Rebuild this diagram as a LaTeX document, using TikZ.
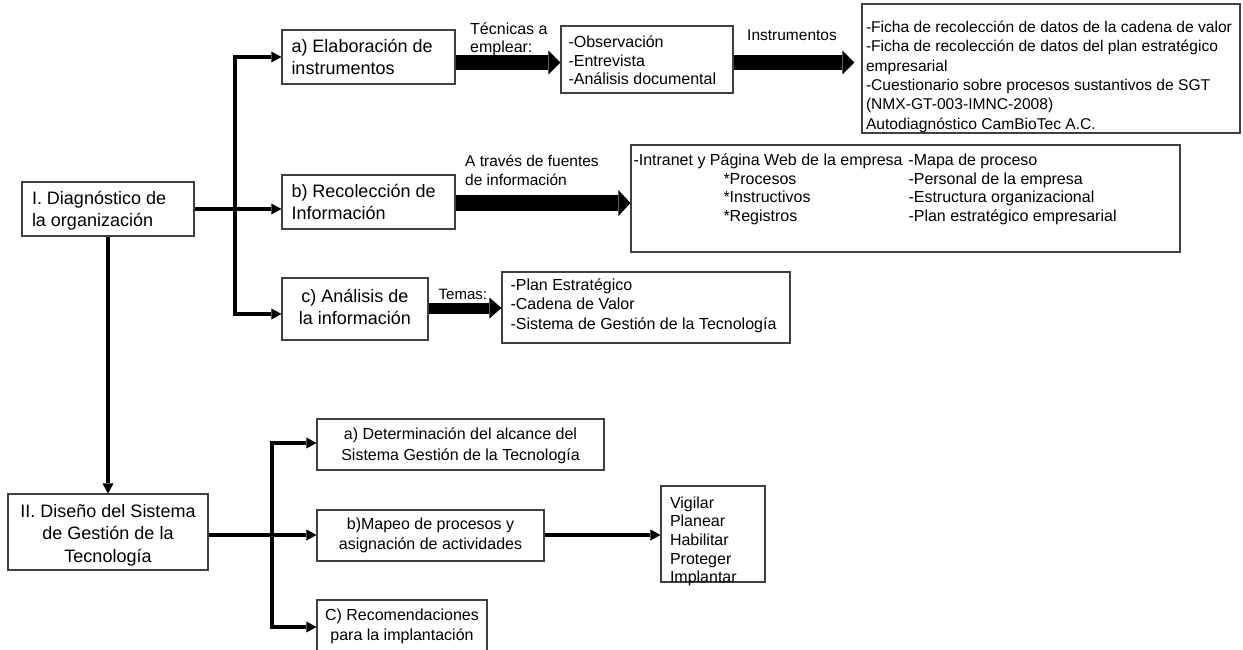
\documentclass[tikz,border=0pt]{standalone}
\usepackage{fontspec}
\setmainfont{Liberation Sans}
\usetikzlibrary{arrows.meta}
% left-aligned block of lines inside a fixed-width slot
\newcommand{\lft}[2]{\makebox[#1][l]{\begin{tabular}[t]{@{}l@{}}#2\end{tabular}}}
% centred block of lines
\newcommand{\ctr}[1]{\begin{tabular}[t]{@{}c@{}}#1\end{tabular}}
\newcommand{\fs}[2]{\fontsize{#1}{#2}\selectfont}
\begin{document}
\begin{tikzpicture}[x=1pt,y=-1pt,
  box/.style={draw=black!75, line width=1.1pt, inner sep=0pt, text height=0pt, anchor=center},
  conn/.style={line width=3.8pt, -{Triangle[length=10pt,width=11pt,line width=0pt]}},
  bus/.style={line width=3.8pt, line cap=rect},
  fat/.style={line width=#1, -{Triangle[length=12pt,width=24pt,line width=0pt]}},
  lab/.style={inner sep=0pt, anchor=base west}]
\useasboundingbox[fill=white] (0,0) rectangle (1243,649);

% ---------- I. Diagnóstico ----------
\node[box, minimum width=172pt, minimum height=54pt, text depth=10pt, font=\fs{18}{22}]
  (diag) at (108,209) {\lft{152pt}{I. Diagnóstico de\\la organización}};
\node[box, minimum width=173pt, minimum height=54pt, text depth=9pt, font=\fs{18}{22}]
  (elab) at (368.5,57) {\lft{154pt}{a) Elaboración de\\instrumentos}};
\node[box, minimum width=173pt, minimum height=54pt, text depth=9.4pt, font=\fs{18}{22}]
  (reco) at (368.5,202) {\lft{154pt}{b) Recolección de\\Información}};
\node[box, minimum width=146pt, minimum height=62pt, text depth=14pt, font=\fs{18}{22}]
  (anal) at (355,309) {\ctr{c) Análisis de\\la información}};

\node[box, minimum width=172pt, minimum height=67pt, text depth=24pt, font=\fs{16}{18.5}]
  (tech) at (647,59.5) {\lft{157pt}{-Observación\\-Entrevista\\-Análisis documental}};
\node[box, minimum width=378pt, minimum height=129pt, text depth=72pt, font=\fs{15.6}{19.3}]
  (inst) at (1051,68.5) {\lft{370pt}{-Ficha de recolección de datos de la cadena de valor\\
  -Ficha de recolección de datos del plan estratégico\\empresarial\\
  -Cuestionario sobre procesos sustantivos de SGT\\(NMX-GT-003-IMNC-2008)\\
  Autodiagnóstico CamBioTec A.C.}};
\node[box, minimum width=549pt, minimum height=107pt, text depth=66pt, font=\fs{16}{18.7}]
  (fuentes) at (905.5,198.5) {\makebox[544pt][l]{\begin{tabular}[t]{@{}p{275pt}@{}l@{}}
  -Intranet y Página Web de la empresa & -Mapa de proceso\\
  \hspace*{90pt}*Procesos & -Personal de la empresa\\
  \hspace*{90pt}*Instructivos & -Estructura organizacional\\
  \hspace*{90pt}*Registros & -Plan estratégico empresarial
  \end{tabular}}};
\node[box, minimum width=288pt, minimum height=71pt, text depth=33.6pt, font=\fs{16}{19.2}]
  (temas) at (646,307.5) {\lft{271pt}{-Plan Estratégico\\-Cadena de Valor\\-Sistema de Gestión de la Tecnología}};

% labels on the wide arrows
\node[lab, font=\fs{16}{18}] (tlab) at (470,34) {\begin{tabular}[t]{@{}l@{}}Técnicas a\\emplear:\end{tabular}};
\node[lab, font=\fs{15.5}{16}] (ilab) at (747,40.5) {Instrumentos};
\node[lab, font=\fs{15.5}{18.5}] (flab) at (465,166.5) {\begin{tabular}[t]{@{}l@{}}A través de fuentes\\de información\end{tabular}};
\node[lab, font=\fs{15}{16}] (mlab) at (438.5,299) {Temas:};

% branch lines of the first stage
\coordinate (tA) at (235,57);
\coordinate (tC) at (235,314);
\draw[bus] (tA) -- (tC);
\draw[conn] (tA) -- (elab.west |- tA);
\draw[conn] (diag.east) -- (reco.west |- diag.east);
\draw[conn] (tC) -- (anal.west |- tC);

% wide arrows
\coordinate (ya) at (0,62.5);
\coordinate (yb) at (0,203);
\coordinate (yc) at (0,308);
\draw[fat=15pt] (elab.east |- ya) -- (tech.west |- ya);
\draw[fat=15pt, shorten >=7pt] (tech.east |- ya) -- (inst.west |- ya);
\draw[fat=16pt, -{Triangle[length=12pt,width=26pt,line width=0pt]}] (reco.east |- yb) -- (fuentes.west |- yb);
\draw[fat=11pt, -{Triangle[length=12pt,width=21pt,line width=0pt]}] (anal.east |- yc) -- (temas.west |- yc);

% ---------- II. Diseño ----------
\node[box, minimum width=200pt, minimum height=76pt, text depth=29pt, font=\fs{18}{22.3}]
  (dise) at (108,532) {\ctr{II. Diseño del Sistema\\de Gestión de la\\Tecnología}};
\node[box, minimum width=287pt, minimum height=51pt, text depth=11pt, font=\fs{16}{21}]
  (det) at (460.5,444.5) {\ctr{a) Determinación del alcance del\\Sistema Gestión de la Tecnología}};
\node[box, minimum width=227pt, minimum height=51pt, text depth=12pt, font=\fs{16}{19.5}]
  (map) at (430.5,535.5) {\ctr{b)Mapeo de procesos y\\asignación de actividades}};
\node[box, minimum width=170pt, minimum height=52pt, text depth=11pt, font=\fs{16}{19.5}]
  (rec) at (402,626) {\ctr{C) Recomendaciones\\para la implantación}};
\node[box, minimum width=104pt, minimum height=96pt, text depth=52pt, font=\fs{16}{18.7}]
  (vig) at (713,534) {\lft{86pt}{Vigilar\\Planear\\Habilitar\\Proteger\\Implantar}};

\draw[conn] (diag.south) -- (dise.north);

\coordinate (bA) at (272,443);
\coordinate (bC) at (272,627);
\coordinate (yd) at (0,535);
\draw[bus] (bA) -- (bC);
\draw[conn] (bA) -- (det.west |- bA);
\draw[conn] (dise.east |- yd) -- (map.west |- yd);
\draw[conn] (bC) -- (rec.west |- bC);
\draw[line width=3.4pt, -{Triangle[length=10pt,width=11pt,line width=0pt]}] (map.east |- yd) -- (vig.west |- yd);
\end{tikzpicture}
\end{document}
